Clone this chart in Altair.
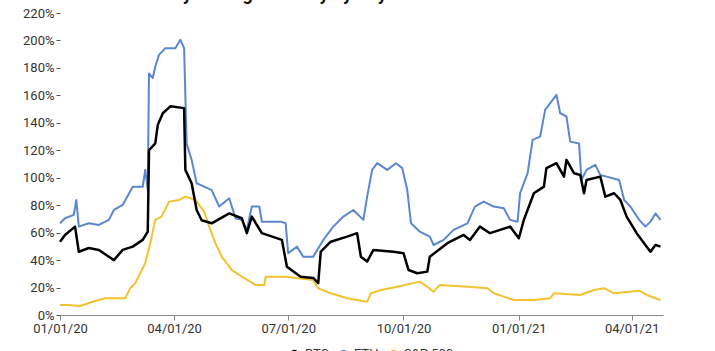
import altair as alt
import pandas as pd

# ---- data (30-day rolling volatility, %) ----
btc_dates = ["2020-01-01","2020-01-05","2020-01-13","2020-01-16","2020-01-24","2020-02-01","2020-02-09","2020-02-13",
             "2020-02-20","2020-02-28","2020-03-07","2020-03-11","2020-03-12","2020-03-17","2020-03-19","2020-03-23",
             "2020-03-29","2020-04-09","2020-04-10","2020-04-15","2020-04-19","2020-04-23","2020-05-01","2020-05-15",
             "2020-05-25","2020-05-29","2020-06-02","2020-06-10","2020-06-26","2020-06-30","2020-07-11","2020-07-21",
             "2020-07-25","2020-07-27","2020-08-04","2020-08-17","2020-08-25","2020-08-28","2020-09-02","2020-09-07",
             "2020-09-23","2020-10-01","2020-10-05","2020-10-12","2020-10-20","2020-10-22","2020-11-05","2020-11-18",
             "2020-11-23","2020-12-01","2020-12-09","2020-12-25","2021-01-01","2021-01-05","2021-01-13","2021-01-21",
             "2021-01-23","2021-01-31","2021-02-06","2021-02-08","2021-02-14","2021-02-19","2021-02-22","2021-02-24",
             "2021-03-07","2021-03-11","2021-03-18","2021-03-23","2021-03-28","2021-04-05","2021-04-13","2021-04-16",
             "2021-04-20","2021-04-24"]
btc_vals = [53.4,58.3,64.4,46.1,48.8,47.4,42.4,40.0,
            47.4,49.8,54.7,60.7,120.0,125.0,138.5,147.0,
            152.0,150.7,105.7,96.0,76.5,69.0,66.8,74.0,
            70.5,59.6,71.7,59.6,54.7,35.2,27.9,27.0,
            23.3,46.1,53.4,57.1,59.6,42.5,38.9,47.4,
            46.1,45.0,32.8,30.4,31.6,42.5,52.3,58.3,
            54.7,64.4,59.6,64.4,55.9,69.3,88.7,93.5,
            107.0,110.6,100.8,113.0,103.3,102.0,88.7,98.4,
            100.8,86.2,88.7,83.8,71.7,59.6,49.8,46.1,
            51.0,49.8]

eth_dates = ["2020-01-01","2020-01-05","2020-01-12","2020-01-14","2020-01-16","2020-01-24","2020-02-01","2020-02-09",
             "2020-02-13","2020-02-20","2020-02-28","2020-03-07","2020-03-09","2020-03-11","2020-03-12","2020-03-15",
             "2020-03-17","2020-03-20","2020-03-25","2020-04-02","2020-04-06","2020-04-09","2020-04-11","2020-04-15",
             "2020-04-19","2020-04-25","2020-05-01","2020-05-07","2020-05-15","2020-05-20","2020-05-25","2020-05-29",
             "2020-06-02","2020-06-08","2020-06-10","2020-06-23","2020-06-25","2020-06-29","2020-07-01","2020-07-08",
             "2020-07-13","2020-07-21","2020-07-29","2020-08-06","2020-08-14","2020-08-22","2020-08-30","2020-09-02",
             "2020-09-06","2020-09-10","2020-09-18","2020-09-25","2020-09-30","2020-10-04","2020-10-07","2020-10-14",
             "2020-10-22","2020-10-25","2020-11-02","2020-11-10","2020-11-21","2020-11-27","2020-12-04","2020-12-12",
             "2020-12-20","2020-12-25","2020-12-31","2021-01-02","2021-01-08","2021-01-12","2021-01-18","2021-01-22",
             "2021-01-26","2021-01-31","2021-02-03","2021-02-08","2021-02-11","2021-02-18","2021-02-20","2021-02-24",
             "2021-03-03","2021-03-07","2021-03-12","2021-03-22","2021-03-26","2021-03-31","2021-04-07","2021-04-12",
             "2021-04-16","2021-04-20","2021-04-24"]
eth_vals = [66.8,70.5,72.9,83.8,64.4,66.8,65.6,69.3,
            76.5,80.2,93.5,93.5,105.7,91.0,176.0,172.6,
            181.0,189.5,194.4,194.4,200.5,194.4,125.0,113.0,
            96.0,93.5,91.0,79.0,85.0,70.5,69.3,62.0,
            79.0,79.0,68.0,68.0,68.0,66.8,45.0,49.8,
            42.5,42.5,54.7,64.4,71.7,76.5,69.3,86.2,
            105.7,110.6,105.7,110.6,107.0,91.0,66.8,60.7,
            57.1,51.0,54.7,62.0,66.8,79.0,82.6,79.0,
            77.8,69.3,68.0,88.7,103.3,127.6,130.0,149.4,
            154.3,160.4,147.0,144.6,126.3,125.0,98.4,105.7,
            109.4,102.0,100.8,98.4,83.8,79.0,69.3,64.4,
            68.0,74.0,69.3]

spx_dates = ["2020-01-01","2020-01-08","2020-01-17","2020-01-27","2020-02-06","2020-02-22","2020-02-26","2020-03-01",
             "2020-03-05","2020-03-09","2020-03-13","2020-03-17","2020-03-22","2020-03-28","2020-04-05","2020-04-10",
             "2020-04-18","2020-04-25","2020-04-29","2020-05-04","2020-05-09","2020-05-17","2020-05-25","2020-06-05",
             "2020-06-12","2020-06-13","2020-06-29","2020-07-21","2020-07-25","2020-08-04","2020-08-17","2020-09-02",
             "2020-09-05","2020-09-13","2020-09-26","2020-10-14","2020-10-20","2020-10-25","2020-10-30","2020-11-21",
             "2020-12-07","2020-12-12","2020-12-28","2021-01-13","2021-01-26","2021-01-29","2021-02-19","2021-03-02",
             "2021-03-10","2021-03-18","2021-04-07","2021-04-13","2021-04-24"]
spx_vals = [7.3,7.3,6.6,9.7,12.2,12.2,19.5,23.1,
            30.4,37.7,52.3,69.3,71.7,82.6,83.8,86.2,
            83.8,75.3,64.4,52.3,42.5,32.8,27.9,21.9,
            21.9,27.9,27.9,25.5,19.5,15.8,12.2,9.7,
            15.8,18.2,20.6,24.3,20.6,17.0,21.9,20.6,
            19.5,15.8,10.9,10.9,12.2,15.8,14.6,18.2,
            19.5,15.8,17.7,14.6,10.9]

series_names = ["BTC", "ETH", "S&P 500"]
series_colors = ["#000000", "#5B87D0", "#F2C230"]
x_tick_labels = ["01/01/20", "04/01/20", "07/01/20", "10/01/20", "01/01/21", "04/01/21"]
y_ticks = [0, 20, 40, 60, 80, 100, 120, 140, 160, 180, 200, 220]
chart_title = "30-Day Rolling Volatility by Day: BTC vs ETH vs S&P 500"

frames = []
for name, d, v in [("BTC", btc_dates, btc_vals), ("ETH", eth_dates, eth_vals), ("S&P 500", spx_dates, spx_vals)]:
    frames.append(pd.DataFrame({"date": pd.to_datetime(d), "vol": v, "series": name}))
df = pd.concat(frames, ignore_index=True)

tick_values = [alt.DateTime(year=2000 + int(t[6:8]), month=int(t[0:2]), date=int(t[3:5])) for t in x_tick_labels]

FONT = "Roboto"

x_enc = alt.X("date:T",
              scale=alt.Scale(domain=[alt.DateTime(year=2020, month=1, date=1),
                                      alt.DateTime(year=2021, month=4, date=26)]),
              axis=alt.Axis(title=None, values=tick_values, format="%m/%d/%y", labelFontSize=13,
                            labelColor="#333333", domainColor="#888888", tickColor="#888888",
                            tickSize=5, labelPadding=2, grid=False, labelFlush=False))
y_enc = alt.Y("vol:Q",
              scale=alt.Scale(domain=[0, 220], nice=False),
              axis=alt.Axis(title=None, values=y_ticks, labelExpr="datum.value + '%'", labelFontSize=13,
                            labelColor="#333333", domain=False, tickColor="#555555", tickSize=4,
                            labelPadding=2, grid=False))
color_enc = alt.Color("series:N",
                      scale=alt.Scale(domain=series_names, range=series_colors),
                      legend=alt.Legend(title=None, orient="none", legendX=228, legendY=334,
                                        direction="horizontal",
                                        symbolType="circle", symbolSize=40, labelFontSize=13,
                                        labelColor="#333333", columnPadding=8, labelOffset=4))

base = alt.Chart(df).encode(x=x_enc, y=y_enc, color=color_enc)

layers = []
for name, w in [("S&P 500", 2), ("ETH", 2), ("BTC", 2.5)]:
    layers.append(base.transform_filter(alt.datum.series == name).mark_line(strokeWidth=w, strokeJoin="round"))

chart = alt.layer(*layers).properties(
    width=603, height=302,
    title=alt.TitleParams(chart_title, fontSize=18, fontWeight="bold", font=FONT, color="#111111",
                          anchor="middle", baseline="alphabetic", offset=0, dy=11),
    autosize=alt.AutoSizeParams(type="none"),
    padding={"left": 60, "top": 13, "right": 52, "bottom": 36},
).configure(font=FONT).configure_view(stroke=None).configure_axis(labelFont=FONT).configure_legend(labelFont=FONT)

chart.save("out.html", embed_options={"renderer": "svg", "actions": False})
